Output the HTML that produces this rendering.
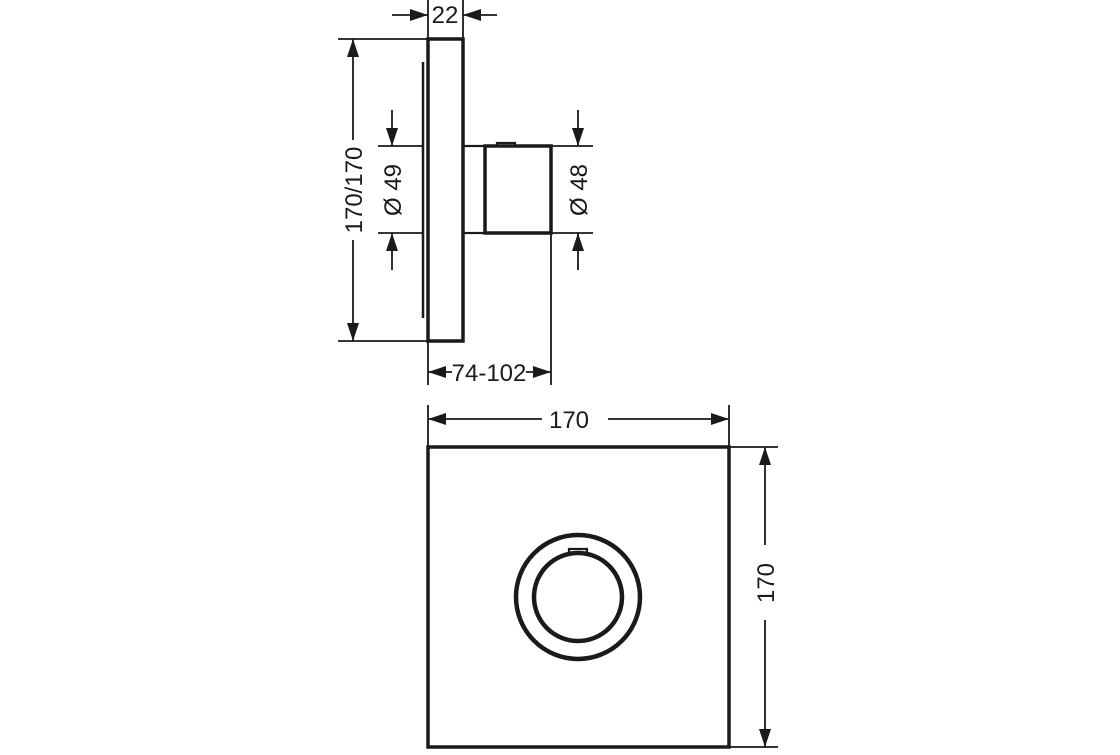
<!DOCTYPE html>
<html><head><style>html,body{margin:0;padding:0;background:#fff}</style></head><body>
<svg width="1120" height="750" viewBox="0 0 1120 750" xmlns="http://www.w3.org/2000/svg" font-family="Liberation Sans, sans-serif" font-size="24" fill="#1a1a1a">
<defs>
<marker id="a" viewBox="0 0 18 12" refX="18" refY="6" markerWidth="18" markerHeight="12" markerUnits="userSpaceOnUse" orient="auto-start-reverse"><path d="M0,0L18,6L0,12z" fill="#1a1a1a"/></marker>
</defs>
<style>.t{stroke:#1a1a1a;stroke-width:3.5;fill:none}.h{stroke:#1a1a1a;stroke-width:1.8;fill:none}</style>
<g class="h">
<line x1="428" y1="0" x2="428" y2="385"/>
<line x1="463" y1="0" x2="463" y2="39"/>
<line x1="338" y1="39" x2="428" y2="39"/>
<line x1="338" y1="341" x2="428" y2="341"/>
<line x1="378" y1="146" x2="422" y2="146"/>
<line x1="378" y1="233" x2="422" y2="233"/>
<line x1="551" y1="146" x2="593" y2="146"/>
<line x1="551" y1="233" x2="593" y2="233"/>
<line x1="551" y1="233" x2="551" y2="385"/>
<line x1="428" y1="405" x2="428" y2="447"/>
<line x1="729" y1="405" x2="729" y2="447"/>
<line x1="729" y1="447" x2="778" y2="447"/>
<line x1="729" y1="747" x2="778" y2="747"/>
</g>
<g class="h" stroke-width="2.2">
<line x1="392" y1="15" x2="428" y2="15" marker-end="url(#a)"/>
<line x1="497" y1="15" x2="463" y2="15" marker-end="url(#a)"/>
<line x1="353" y1="140" x2="353" y2="39" marker-end="url(#a)"/>
<line x1="353" y1="240" x2="353" y2="341" marker-end="url(#a)"/>
<line x1="392" y1="110" x2="392" y2="146" marker-end="url(#a)"/>
<line x1="392" y1="270" x2="392" y2="233" marker-end="url(#a)"/>
<line x1="578" y1="110" x2="578" y2="146" marker-end="url(#a)"/>
<line x1="578" y1="270" x2="578" y2="233" marker-end="url(#a)"/>
<line x1="452" y1="372" x2="428" y2="372" marker-end="url(#a)"/>
<line x1="526" y1="372" x2="551" y2="372" marker-end="url(#a)"/>
<line x1="542" y1="419" x2="428" y2="419" marker-end="url(#a)"/>
<line x1="608" y1="419" x2="729" y2="419" marker-end="url(#a)"/>
<line x1="765" y1="545" x2="765" y2="447" marker-end="url(#a)"/>
<line x1="765" y1="620" x2="765" y2="747" marker-end="url(#a)"/>
</g>
<g class="t">
<rect x="428" y="39" width="35" height="302"/>
<line x1="423" y1="62" x2="423" y2="318" stroke-width="2.5"/>
<rect x="463" y="146" width="22" height="87" stroke-width="2.2"/>
<rect x="485" y="146" width="66" height="87"/>
<path d="M497,146 v-3 h18 v3" stroke-width="2.2"/>
<rect x="428" y="447" width="301" height="300"/>
<circle cx="578" cy="597" r="62" stroke-width="4.5"/>
<circle cx="578" cy="597" r="44" stroke-width="4.5"/>
<path d="M569,553 v-4 h18 v4" stroke-width="2.2"/>
</g>
<text x="445" y="23" text-anchor="middle">22</text>
<text transform="translate(362,190) rotate(-90)" text-anchor="middle">170/170</text>
<text transform="translate(401,190) rotate(-90)" text-anchor="middle">Ø 49</text>
<text transform="translate(587,190) rotate(-90)" text-anchor="middle">Ø 48</text>
<text x="489" y="381" text-anchor="middle">74-102</text>
<text x="569" y="428" text-anchor="middle">170</text>
<text transform="translate(774,583) rotate(-90)" text-anchor="middle">170</text>
</svg>
</body></html>
